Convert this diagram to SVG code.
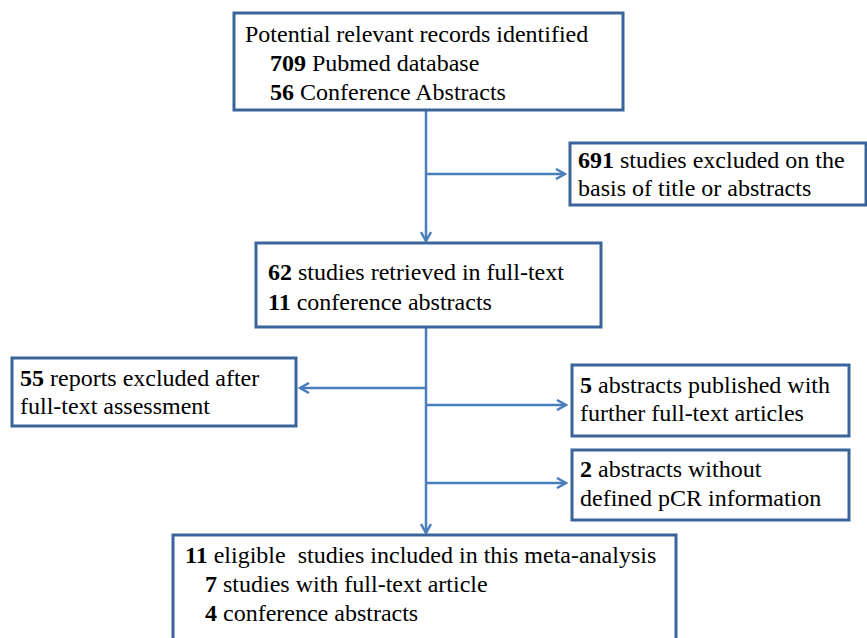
<svg xmlns="http://www.w3.org/2000/svg" width="867" height="638" viewBox="0 0 867 638">
<style>
.box{fill:#fff;stroke:#3B659A;stroke-width:3}
.t{font-family:"Liberation Serif","Times New Roman",serif;font-size:24px;fill:#000}
.b{font-weight:bold}
.c{fill:none;stroke:#4A7EBB;stroke-width:2.5}
</style>
<defs>
<marker id="ah" viewBox="0 0 12 12" refX="10" refY="6" markerWidth="12" markerHeight="12" markerUnits="userSpaceOnUse" orient="auto">
<path d="M1,1 L10,6 L1,11" fill="none" stroke="#4A7EBB" stroke-width="2.5"/>
</marker>
</defs>
<g id="connectors">
<path class="c" d="M426,111 V241" marker-end="url(#ah)"/>
<path class="c" d="M426,174 H565" marker-end="url(#ah)"/>
<path class="c" d="M426,328 V533" marker-end="url(#ah)"/>
<path class="c" d="M426,388 H300" marker-end="url(#ah)"/>
<path class="c" d="M426,405 H566" marker-end="url(#ah)"/>
<path class="c" d="M426,483 H566" marker-end="url(#ah)"/>
</g>
<g id="n1">
<rect class="box" x="234" y="13" width="389" height="97"/>
<text class="t" x="245" y="42">Potential relevant records identified</text>
<text class="t" x="270" y="71"><tspan class="b">709</tspan> Pubmed database</text>
<text class="t" x="270" y="100"><tspan class="b">56</tspan> Conference Abstracts</text>
</g>
<g id="n2">
<rect class="box" x="570" y="143" width="296" height="62"/>
<text class="t" x="578" y="168"><tspan class="b">691</tspan> studies excluded on the</text>
<text class="t" x="578" y="196">basis of title or abstracts</text>
</g>
<g id="n3">
<rect class="box" x="256" y="243" width="345" height="84"/>
<text class="t" x="268" y="280"><tspan class="b">62</tspan> studies retrieved in full-text</text>
<text class="t" x="268" y="310"><tspan class="b">11</tspan> conference abstracts</text>
</g>
<g id="n4">
<rect class="box" x="12" y="358" width="284" height="68"/>
<text class="t" x="20" y="386"><tspan class="b">55</tspan> reports excluded after</text>
<text class="t" x="20" y="414">full-text assessment</text>
</g>
<g id="n5">
<rect class="box" x="572" y="365" width="277" height="71"/>
<text class="t" x="580" y="393"><tspan class="b">5</tspan> abstracts published with</text>
<text class="t" x="580" y="421">further full-text articles</text>
</g>
<g id="n6">
<rect class="box" x="572" y="450" width="277" height="70"/>
<text class="t" x="580" y="477"><tspan class="b">2</tspan> abstracts without</text>
<text class="t" x="580" y="506">defined pCR information</text>
</g>
<g id="n7">
<rect class="box" x="173" y="535" width="503" height="110"/>
<text class="t" x="185" y="563" xml:space="preserve"><tspan class="b">11</tspan> eligible  studies included in this meta-analysis</text>
<text class="t" x="205" y="592"><tspan class="b">7</tspan> studies with full-text article</text>
<text class="t" x="205" y="621"><tspan class="b">4</tspan> conference abstracts</text>
</g>
</svg>
